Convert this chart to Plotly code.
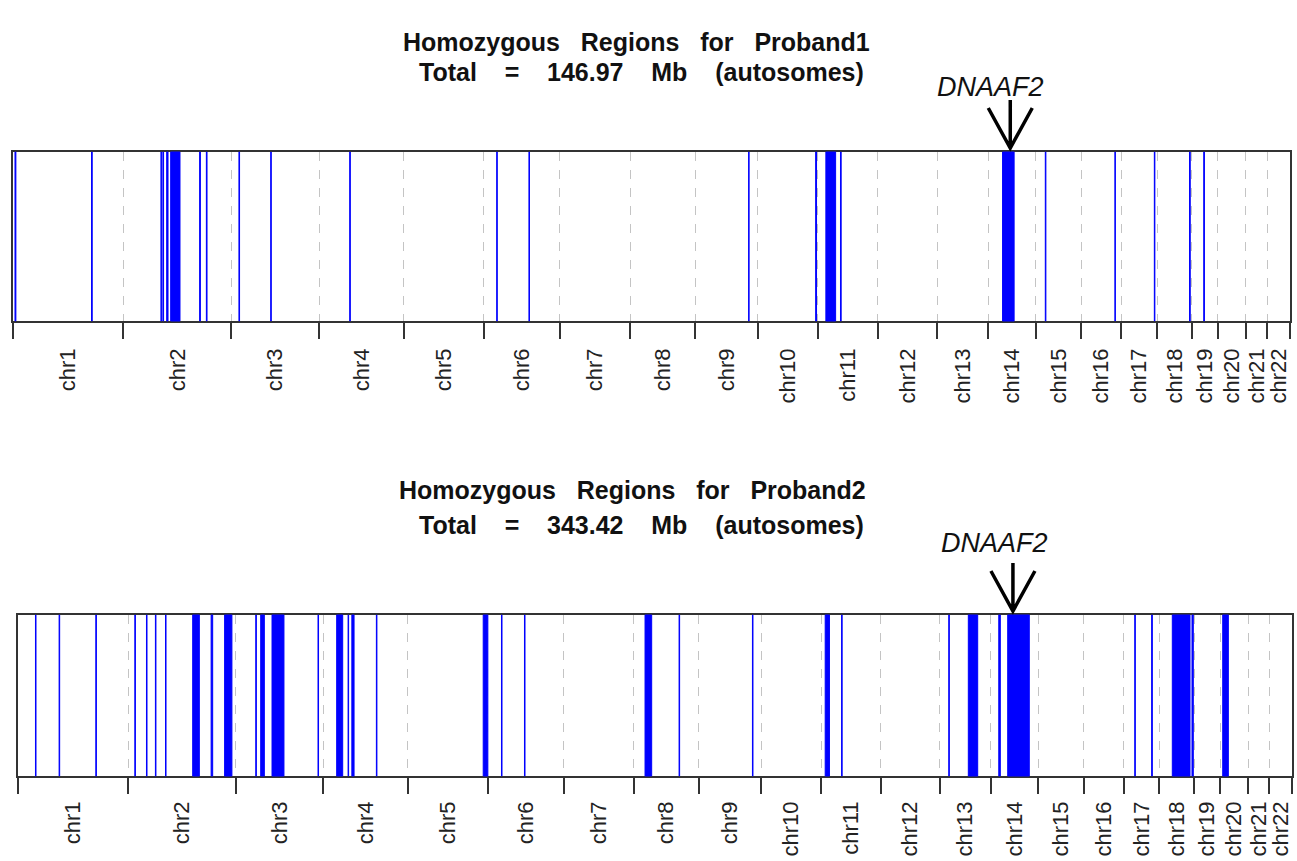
import numpy as np
import plotly.graph_objects as go

W, H = 1297, 861

# ---------------- data ----------------
chrom_names = [f"chr{i}" for i in range(1, 23)]
# hg19 autosome lengths (Mb)
chrom_len = [249.25, 243.20, 198.02, 191.15, 180.92, 171.12, 159.14, 146.36,
             141.21, 135.53, 135.01, 133.85, 115.17, 107.35, 102.53, 90.35,
             81.20, 78.08, 59.13, 63.03, 48.13, 51.30]

# homozygous regions: chromosome number, start (Mb), end (Mb)
p1_chr = [1, 1, 2, 2, 2, 2, 2, 2, 3, 3, 4, 6, 6, 9, 10, 11, 11, 14, 15, 16, 17, 18, 19]
p1_start = [4.5, 177.2, 84.5, 89.0, 97.5, 106.5, 171.8, 187.0, 17.3, 89.0, 69.2, 28.8,
            101.5, 120.5, 130.5, 18.0, 51.0, 32.6, 21.7, 76.2, 74.8, 73.0, 27.0]
p1_end = [6.5, 178.7, 86.2, 90.5, 100.5, 127.5, 173.5, 188.5, 18.7, 90.2, 70.5, 30.0,
          102.7, 121.5, 132.5, 40.0, 52.5, 58.7, 23.0, 77.2, 76.0, 74.6, 28.5]

p2_chr = [1, 1, 1, 2, 2, 2, 2, 2, 2, 2, 3, 3, 3, 3, 4, 4, 4, 4, 5, 6, 6, 8, 8, 9,
          11, 11, 13, 13, 14, 14, 17, 17, 18, 18, 20]
p2_start = [39.5, 93.0, 176.0, 15.0, 41.3, 61.5, 84.3, 145.8, 187.5, 218.0, 45.3, 56.4,
            82.0, 186.0, 30.2, 56.0, 64.5, 120.0, 170.4, 30.8, 82.8, 25.2, 102.2, 121.7,
            9.5, 46.6, 20.1, 64.3, 18.0, 38.2, 25.3, 63.5, 29.0, 73.5, 5.8]
p2_end = [40.7, 94.2, 177.2, 16.2, 42.5, 62.7, 85.5, 160.8, 191.0, 234.5, 46.5, 64.6,
          109.0, 187.2, 43.8, 57.2, 69.5, 121.2, 180.9, 32.0, 84.0, 40.2, 103.4, 122.9,
          19.1, 47.8, 21.3, 85.5, 21.5, 87.0, 26.5, 65.0, 69.0, 76.5, 18.5]

gene_name = "DNAAF2"
gene_chr = 14
gene_pos = 50.0

titles = [("Homozygous Regions for Proband1", "Total = 146.97 Mb (autosomes)"),
          ("Homozygous Regions for Proband2", "Total = 343.42 Mb (autosomes)")]

# ---------------- derived genome coordinates ----------------
ends = np.cumsum(chrom_len)
starts = ends - np.array(chrom_len)
G = float(ends[-1])
centers = (starts + ends) / 2
bounds = np.concatenate([[0.0], ends])
gene_g = float(starts[gene_chr - 1] + gene_pos)


def to_genome(chrs, s, e):
    gs = [float(starts[c - 1] + a) for c, a in zip(chrs, s)]
    ge = [float(starts[c - 1] + b) for c, b in zip(chrs, e)]
    return gs, ge


FONT = "Liberation Sans, Arial, sans-serif"
BLUE = "#0000FF"

fig = go.Figure()

panels = [
    dict(chr=p1_chr, s=p1_start, e=p1_end, x="x", y="y", xl="x3",
         xdom=[13 / W, 1290 / W], ydom=[1 - 321 / H, 1 - 152 / H],
         t1=(636, 42), t2=(641, 72), gene_txt=(990, 87), lab_size=22, lab_off=22),
    dict(chr=p2_chr, s=p2_start, e=p2_end, x="x2", y="y2", xl="x4",
         xdom=[18 / W, 1292 / W], ydom=[1 - 776 / H, 1 - 615 / H],
         t1=(632, 490), t2=(641, 525), gene_txt=(994, 543), lab_size=22, lab_off=20),
]

annotations = []
shapes = []
for i, p in enumerate(panels):
    gs, ge = to_genome(p["chr"], p["s"], p["e"])
    # helper traces so the axes are drawn
    fig.add_trace(go.Scatter(x=[0], y=[0], mode="markers", marker=dict(opacity=0),
                             xaxis=p["x"], yaxis=p["y"], showlegend=False, hoverinfo="skip"))
    fig.add_trace(go.Scatter(x=[0], y=[0], mode="markers", marker=dict(opacity=0),
                             xaxis=p["xl"], yaxis=p["y"], showlegend=False, hoverinfo="skip"))
    for a, b in zip(gs, ge):
        shapes.append(dict(type="rect", xref=p["x"], yref=p["y"] + " domain",
                           x0=a, x1=b, y0=0, y1=1, fillcolor=BLUE,
                           line=dict(color=BLUE, width=1), layer="above"))

    sfx = "" if i == 0 else "2"
    lsfx = "3" if i == 0 else "4"
    fig.layout["xaxis" + sfx] = dict(
        domain=p["xdom"], range=[0, G], anchor=p["y"],
        tickmode="array", tickvals=list(bounds), showticklabels=False,
        ticks="outside", ticklen=16, tickwidth=1.5, tickcolor="#333",
        showgrid=True, gridcolor="#C4C4C4", griddash="dash", gridwidth=1.3,
        showline=True, mirror=True, linecolor="#333", linewidth=1.6,
        zeroline=False, fixedrange=True, automargin=False)
    fig.layout["yaxis" + sfx] = dict(
        domain=p["ydom"], range=[0, 1], anchor=p["x"],
        showticklabels=False, showgrid=False, zeroline=False, ticks="",
        showline=True, mirror=True, linecolor="#333", linewidth=1.6,
        fixedrange=True, automargin=False)
    fig.layout["xaxis" + lsfx] = dict(
        overlaying=p["x"], anchor=p["y"], side="bottom", range=[0, G],
        tickmode="array", tickvals=list(centers), ticktext=chrom_names,
        tickangle=-90, ticks="", showgrid=False, showline=False, zeroline=False,
        tickfont=dict(family=FONT, size=p["lab_size"], color="#222"),
        ticklabelstandoff=p["lab_off"], fixedrange=True, automargin=False)

    sp = "\u00a0\u00a0\u00a0"
    l1 = titles[i][0].replace(" ", sp)
    l2 = titles[i][1].replace(" ", sp + "\u00a0")
    for txt, (cx, cy) in ((l1, p["t1"]), (l2, p["t2"])):
        annotations.append(dict(
            text=f"<b>{txt}</b>", xref="paper", yref="paper",
            x=cx / W, y=1 - cy / H, xanchor="center", yanchor="middle",
            showarrow=False, font=dict(family=FONT, size=25, color="#111")))
    gx, gy = p["gene_txt"]
    annotations.append(dict(
        text=f"<i>{gene_name}</i>", xref="paper", yref="paper",
        x=gx / W, y=1 - gy / H, xanchor="center", yanchor="middle",
        showarrow=False, font=dict(family=FONT, size=27, color="#111")))
    # arrow pointing at the gene (pixel-sized path anchored at gene position)
    shapes.append(dict(type="path", xref=p["x"], yref="paper",
                       xsizemode="pixel", ysizemode="pixel",
                       xanchor=gene_g, yanchor=p["ydom"][1],
                       path="M-22,44 L0,4 L22,44 M0,4 L0,52",
                       line=dict(color="#000", width=3.5)))

fig.update_layout(
    width=W, height=H, margin=dict(l=0, r=0, t=0, b=0),
    paper_bgcolor="white", plot_bgcolor="white",
    annotations=annotations, shapes=shapes, showlegend=False,
    font=dict(family=FONT))

fig.write_html("out.html", config={"displayModeBar": False},
               post_script="document.body.style.margin='0px';"
                           "document.body.style.padding='0px';"
                           "document.body.style.overflow='hidden';")
